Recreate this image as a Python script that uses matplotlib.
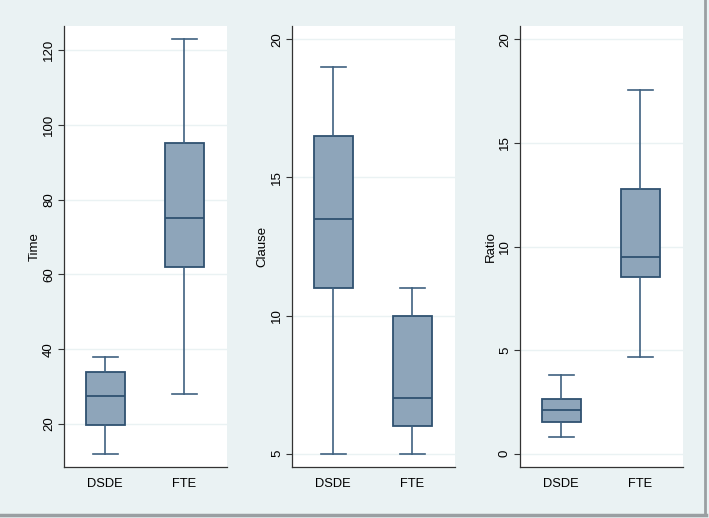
import matplotlib
matplotlib.use("Agg")
import matplotlib.pyplot as plt
from matplotlib.lines import Line2D

plt.rcParams['font.family'] = ['Liberation Sans', 'DejaVu Sans']

groups = ["DSDE", "FTE"]

# five-number summaries: low whisker, Q1, median, Q3, high whisker
time_stats = {"DSDE": [12, 19.6, 27.5, 34, 38], "FTE": [28, 62, 75, 95, 123]}
clause_stats = {"DSDE": [5, 11, 13.5, 16.5, 19], "FTE": [5, 6, 7, 10, 11]}
ratio_stats = {"DSDE": [0.8, 1.55, 2.1, 2.62, 3.8], "FTE": [4.67, 8.53, 9.5, 12.77, 17.57]}

panels = [
    ("Time", time_stats, [20, 40, 60, 80, 100, 120], (8.5, 126.4)),
    ("Clause", clause_stats, [5, 10, 15, 20], (4.52, 20.48)),
    ("Ratio", ratio_stats, [0, 5, 10, 15, 20], (-0.64, 20.64)),
]

bg = "#EAF2F3"
fill = "#8EA5BA"
edge = "#2F5170"
line = "#3F6180"

fig = plt.figure(figsize=(7.09, 5.18), dpi=100)
fig.patch.set_facecolor(bg)

lefts = [64 / 709, 292 / 709, 520 / 709]
width = 162.5 / 709
bottom = (518 - 467) / 518
height = 441 / 518

for (label, stats, ticks, ylim), left in zip(panels, lefts):
    ax = fig.add_axes([left, bottom, width, height])
    ax.set_facecolor("white")
    bstats = []
    for g in groups:
        lo, q1, med, q3, hi = stats[g]
        bstats.append(dict(whislo=lo, q1=q1, med=med, q3=q3, whishi=hi,
                           fliers=[], label=g))
    ax.bxp(bstats, positions=[0, 1], widths=0.49, capwidths=0.31,
           showfliers=False, patch_artist=True,
           boxprops=dict(facecolor=fill, edgecolor=edge, linewidth=1.3),
           medianprops=dict(color=edge, linewidth=1.3),
           whiskerprops=dict(color=line, linewidth=1.2),
           capprops=dict(color=line, linewidth=1.2), zorder=3)
    ax.set_xlim(-0.52, 1.53)
    ax.set_ylim(*ylim)
    ax.set_yticks(ticks)
    ax.set_yticklabels([str(t) for t in ticks], rotation=90, va="center")
    ax.yaxis.grid(True, color=bg, linewidth=1.0, zorder=0)
    ax.set_axisbelow(True)
    ax.set_ylabel(label, fontsize=9.5)
    ax.yaxis.set_label_coords(-0.145, 0.5)
    for s in ["top", "right"]:
        ax.spines[s].set_visible(False)
    for s in ["left", "bottom"]:
        ax.spines[s].set_color("#333333")
        ax.spines[s].set_linewidth(0.9)
    ax.tick_params(axis="y", length=4, width=0.8, color="#333333", labelsize=9.5, pad=2.5)
    ax.tick_params(axis="x", length=0, labelsize=9.3, pad=8)

# outer frame shadow lines (bottom and right)
fig.add_artist(Line2D([0, 706 / 709], [3 / 518, 3 / 518], color="#9A9FA2", linewidth=2.5,
                      transform=fig.transFigure))
fig.add_artist(Line2D([705 / 709, 705 / 709], [3 / 518, 1], color="#9A9FA2", linewidth=2.0,
                      transform=fig.transFigure))

fig.savefig("out.png", dpi=100, facecolor=fig.get_facecolor())
